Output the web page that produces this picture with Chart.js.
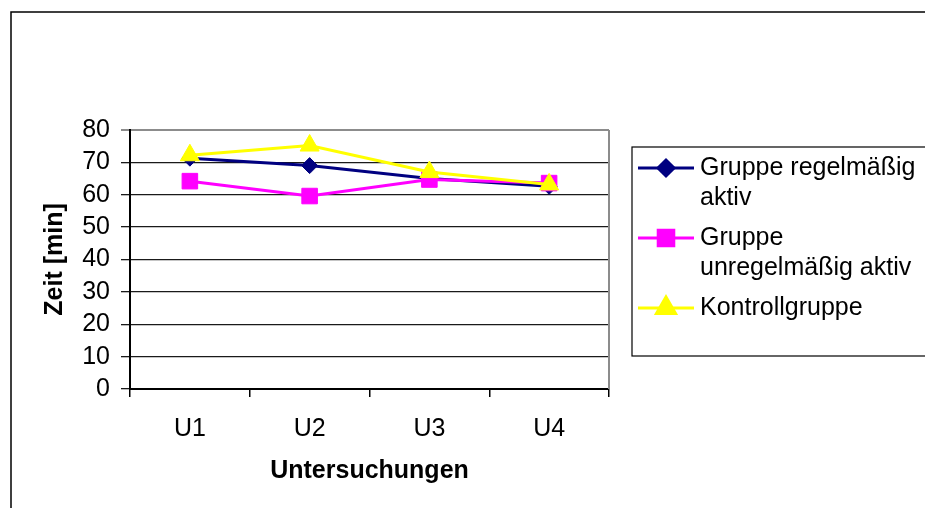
<!DOCTYPE html>
<html>
<head>
<meta charset="utf-8">
<script src="https://cdn.jsdelivr.net/npm/chart.js@4/dist/chart.umd.min.js"></script>
<style>
  html, body { margin: 0; padding: 0; background: #fff; }
  #wrap { width: 925px; height: 508px; position: relative; }
</style>
</head>
<body>
<div id="wrap"><canvas id="c" width="925" height="508"></canvas></div>
<script>
// Examinations (categories)
const categories = ['U1', 'U2', 'U3', 'U4'];

// Time in minutes per group
const regelmaessigAktiv = [71.3, 69, 65, 62.6];
const unregelmaessigAktiv = [64.2, 59.6, 64.7, 63.6];
const kontrollgruppe = [72.2, 75.2, 67, 63.2];

const seriesNames = ['Gruppe regelmäßig aktiv', 'Gruppe unregelmäßig aktiv', 'Kontrollgruppe'];

// Y axis ticks
const yTicks = [0, 10, 20, 30, 40, 50, 60, 70, 80];

const FONT = "'Liberation Sans', Arial, sans-serif";

// Outer frame, plot-area border and the boxed legend on the right
const decorations = {
  id: 'decorations',
  beforeDraw(chart) {
    const ctx = chart.ctx;
    ctx.save();
    ctx.fillStyle = '#fff';
    ctx.fillRect(0, 0, chart.width, chart.height);
    ctx.restore();
  },
  afterDraw(chart) {
    const ctx = chart.ctx;
    const area = chart.chartArea;
    ctx.save();
    // outer frame
    ctx.strokeStyle = '#000';
    ctx.lineWidth = 1.5;
    ctx.beginPath();
    ctx.moveTo(11, chart.height + 2);
    ctx.lineTo(11, 12);
    ctx.lineTo(chart.width + 2, 12);
    ctx.stroke();

    // right border of the plot area
    ctx.strokeStyle = '#8c8c8c';
    ctx.lineWidth = 2;
    ctx.beginPath();
    ctx.moveTo(area.right, area.top);
    ctx.lineTo(area.right, area.bottom);
    ctx.stroke();

    // legend
    const boxX = 632, boxY = 147, boxB = 356;
    ctx.strokeStyle = '#000';
    ctx.lineWidth = 1.2;
    ctx.strokeRect(boxX, boxY, chart.width + 10 - boxX, boxB - boxY);

    ctx.font = '25px ' + FONT;
    ctx.fillStyle = '#000';
    ctx.textBaseline = 'middle';
    ctx.textAlign = 'left';
    const textX = 700, maxW = chart.width - textX - 2;
    const lineH = 30, gap = 10;
    let y = 168;
    chart.data.datasets.forEach((ds) => {
      // wrap label into lines
      const words = ds.label.split(' ');
      const lines = [];
      let cur = '';
      words.forEach((w) => {
        const test = cur ? cur + ' ' + w : w;
        if (cur && ctx.measureText(test).width > maxW) {
          lines.push(cur);
          cur = w;
        } else {
          cur = test;
        }
      });
      if (cur) lines.push(cur);

      // sample line and marker
      ctx.strokeStyle = ds.borderColor;
      ctx.lineWidth = ds.borderWidth;
      ctx.beginPath();
      ctx.moveTo(638, y);
      ctx.lineTo(694, y);
      ctx.stroke();
      ctx.fillStyle = ds.pointBackgroundColor;
      ctx.strokeStyle = ds.pointBorderColor;
      Chart.helpers.drawPoint(ctx, {
        pointStyle: ds.pointStyle,
        radius: ds.pointRadius,
        rotation: 0,
        borderWidth: 1
      }, 666, y);

      ctx.fillStyle = '#000';
      lines.forEach((ln, i) => ctx.fillText(ln, textX, y + i * lineH));
      y += lines.length * lineH + gap;
    });
    ctx.restore();
  }
};

const colors = ['#000080', '#ff00ff', '#ffff00'];
const styles = ['rectRot', 'rect', 'triangle'];
const radii = [8, 11, 11];
const values = [regelmaessigAktiv, unregelmaessigAktiv, kontrollgruppe];
const drawOrder = [2, 1, 0];

const datasets = values.map((v, i) => ({
  label: seriesNames[i],
  data: v,
  borderColor: colors[i],
  backgroundColor: colors[i],
  pointBackgroundColor: colors[i],
  pointBorderColor: colors[i],
  pointStyle: styles[i],
  pointRadius: radii[i],
  pointHoverRadius: radii[i],
  pointBorderWidth: 1,
  borderWidth: 3,
  tension: 0,
  fill: false,
  order: drawOrder[i]
}));

new Chart(document.getElementById('c'), {
  type: 'line',
  data: { labels: categories, datasets },
  plugins: [decorations],
  options: {
    responsive: false,
    animation: false,
    events: [],
    layout: { padding: { left: 30, top: 130, right: 316, bottom: 20 } },
    plugins: {
      legend: { display: false },
      tooltip: { enabled: false },
      title: { display: false }
    },
    scales: {
      x: {
        type: 'category',
        offset: true,
        afterFit(scale) { scale.height = 99; },
        grid: {
          display: true,
          offset: true,
          drawOnChartArea: false,
          drawTicks: true,
          tickLength: 8,
          color: '#000',
          lineWidth: 1.5
        },
        border: { display: true, color: '#000', width: 2 },
        ticks: {
          color: '#000',
          font: { family: FONT, size: 25 },
          padding: 17,
          maxRotation: 0
        },
        title: {
          display: true,
          text: 'Untersuchungen',
          color: '#000',
          font: { family: FONT, size: 25, weight: 'bold' },
          padding: { top: 0, bottom: 2 }
        }
      },
      y: {
        min: 0,
        max: 80,
        afterFit(scale) { scale.width = 100; },
        afterBuildTicks(scale) { scale.ticks = yTicks.map(v => ({ value: v })); },
        grid: {
          display: true,
          drawTicks: true,
          tickLength: 9,
          color: (c) => (c.tick && c.tick.value === 80 ? '#8c8c8c' : '#1a1a1a'),
          lineWidth: (c) => (c.tick && c.tick.value === 80 ? 2 : 1.3)
        },
        border: { display: true, color: '#000', width: 2 },
        ticks: {
          color: '#000',
          font: { family: FONT, size: 25 },
          padding: 11,
          autoSkip: false
        },
        title: {
          display: true,
          text: 'Zeit [min]',
          color: '#000',
          font: { family: FONT, size: 25, weight: 'bold' },
          padding: { top: 10, bottom: 0 }
        }
      }
    }
  }
});
</script>
</body>
</html>
